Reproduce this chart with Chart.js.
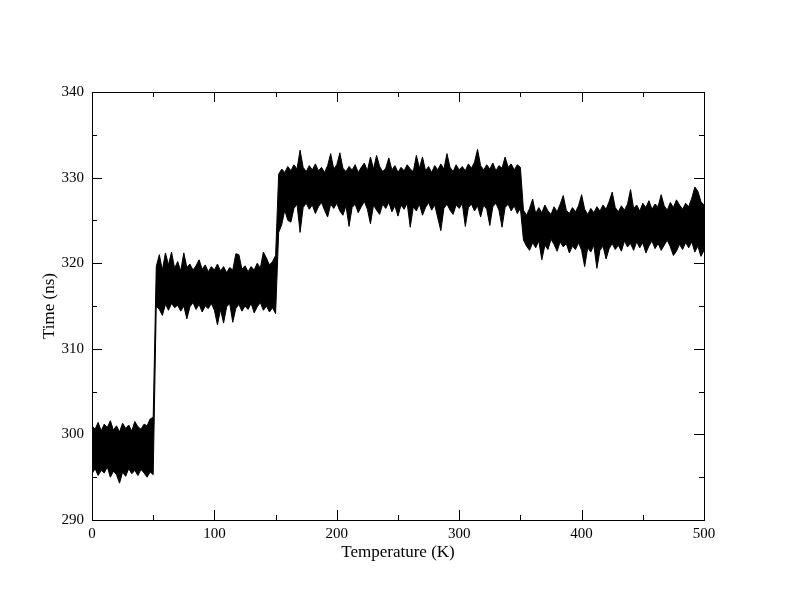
<!DOCTYPE html>
<html>
<head>
<meta charset="utf-8">
<script src="https://cdn.jsdelivr.net/npm/chart.js@4/dist/chart.umd.min.js"></script>
<style>
  html, body { margin: 0; padding: 0; background: #fff; }
  #wrap { width: 792px; height: 612px; }
</style>
</head>
<body>
<div id="wrap"><canvas id="chart" width="792" height="612"></canvas></div>
<script>
// Temperature samples every 2.5 K (0 .. 500)
const tempStep = 2.5;
const temps = Array.from({ length: 201 }, (_, i) => i * tempStep);

// Upper edge of the noisy band (ns)
const timeHigh = [
  301.0, 300.6, 301.4, 300.4, 301.2, 300.8, 301.6, 300.5, 301.0, 300.3,
  301.3, 300.7, 301.1, 300.4, 301.5, 300.9, 300.6, 301.2, 301.0, 301.8,
  302.0,
  319.6, 321.0, 319.2, 321.2, 319.8, 321.3, 319.4, 320.2, 319.1, 321.2,
  319.5, 319.9, 319.2, 319.7, 320.4, 319.3, 319.8, 319.0, 319.6, 319.2,
  319.9, 319.1, 319.6, 318.9, 319.5, 319.2, 321.1, 321.0, 319.3, 319.7,
  319.0, 319.6, 319.2, 320.0, 319.4, 321.3, 320.6, 319.8, 320.2, 320.9,
  330.4, 331.0, 330.6, 331.3, 330.8, 331.5, 331.0, 333.2, 331.2, 330.7,
  331.4, 330.9, 331.6, 330.8, 331.2, 330.6, 331.4, 332.8, 331.0, 331.5,
  332.9, 331.1, 330.7, 331.3, 330.9, 331.5, 330.6, 331.2, 331.7, 330.8,
  332.4, 331.0, 332.6, 331.3, 330.7, 331.1, 332.3, 330.9, 331.4, 330.6,
  331.2, 330.8, 331.5, 331.0, 330.7, 332.6, 331.1, 332.4, 330.8, 331.3,
  330.6, 331.4, 330.9, 331.6, 331.0, 332.8, 331.2, 330.7, 331.5, 330.9,
  331.3, 330.8, 331.6, 331.1, 331.8, 333.3, 331.4, 330.9, 331.5, 331.0,
  331.7, 330.8, 331.4, 331.1, 332.4, 331.2, 331.6, 330.9, 331.5, 331.2,
  326.2, 325.6, 326.4, 327.5, 325.8, 326.5, 325.9, 326.8, 326.1, 325.7,
  326.6, 326.0, 326.9, 327.9, 326.2, 325.8, 326.5, 326.0, 326.7, 328.0,
  326.3, 325.7, 326.4, 325.9, 326.6, 326.1, 326.8, 326.3, 327.2, 328.3,
  326.5, 326.0, 326.7, 326.2, 326.9, 328.6, 326.4, 326.8, 326.1, 327.0,
  326.5, 327.3, 326.3, 326.9, 326.6, 328.0, 326.7, 326.2, 327.1, 326.5,
  327.4, 326.8, 326.3, 327.0, 326.6, 327.6, 328.9, 328.4, 327.2, 326.8
];

// Lower edge of the noisy band (ns)
const timeLow = [
  295.4, 296.0, 295.2, 295.8, 295.5, 296.2, 295.0, 295.7, 295.3, 294.3,
  295.6, 295.1, 296.0, 295.4, 295.8, 295.2, 295.9, 295.5, 295.0, 295.6,
  295.3,
  315.0, 314.6, 313.9, 315.2, 314.5, 315.3, 314.8, 315.1, 314.4, 315.0,
  313.5, 314.9, 315.4, 314.6, 315.2, 314.3, 315.0, 314.7, 315.3, 314.5,
  312.8, 314.6, 313.0, 314.9, 315.3, 313.1, 314.7, 315.2, 314.4, 315.0,
  314.6, 315.3, 314.2, 314.9, 315.4, 314.5, 315.0, 314.3, 314.8, 314.1,
  323.6, 324.5, 326.2, 325.0, 324.8, 326.4, 326.9, 323.6, 326.5, 327.0,
  326.3, 326.8, 325.8, 326.6, 327.1, 326.2, 325.4, 326.9, 326.4, 327.0,
  326.1, 325.6, 326.7, 324.3, 326.5, 326.9, 325.9, 326.6, 327.2, 326.3,
  324.6, 326.8, 326.2, 325.7, 326.9, 326.4, 327.1, 326.0, 326.7, 325.5,
  326.8, 326.3, 327.0, 324.2, 326.6, 326.1, 326.9, 325.6, 326.5, 327.1,
  326.2, 326.8, 325.3, 323.8, 326.4, 326.9, 326.2, 325.7, 326.8, 326.4,
  327.0, 324.3, 326.5, 326.9, 326.1, 326.7, 325.4, 326.8, 326.3, 324.4,
  326.6, 327.0, 326.2, 324.2, 326.5, 326.9, 326.1, 326.7, 325.8, 326.4,
  322.7, 322.0, 321.5, 322.4, 321.8, 322.6, 320.4, 322.1, 321.6, 322.8,
  322.2, 321.4, 322.5, 321.9, 322.3, 321.2, 322.0, 321.6, 322.4, 321.5,
  319.6, 321.8, 321.3, 322.1, 319.4, 321.5, 322.0, 320.5, 321.7, 322.3,
  321.6, 322.1, 321.4, 322.6, 321.9, 322.3, 321.5, 322.5, 321.8, 322.4,
  321.2, 322.0, 322.6, 321.7, 322.3, 321.5, 322.1, 322.7, 321.9, 320.9,
  321.4, 322.2, 321.6, 322.4, 321.8, 322.5, 321.3, 322.0, 320.8, 321.5
];

// Axis ticks
const xMajor = [0, 100, 200, 300, 400, 500];
const xMinor = [50, 150, 250, 350, 450];
const yMajor = [290, 300, 310, 320, 330, 340];
const yMinor = [295, 305, 315, 325, 335];

const serif = '"Liberation Serif", "DejaVu Serif", serif';

function toPoints(vals) {
    return vals.map((v, i) => ({ x: temps[i], y: v }));
}

// Box frame with inward ticks on all four sides
const frameTicks = {
    id: 'frameTicks',
    afterDatasetsDraw(chart) {
        const { ctx, chartArea: a, scales: { x, y } } = chart;
        ctx.save();
        ctx.strokeStyle = '#000';
        ctx.lineWidth = 1;
        ctx.beginPath();
        const xTick = (v, len) => {
            const px = Math.round(x.getPixelForValue(v)) + 0.5;
            ctx.moveTo(px, a.bottom); ctx.lineTo(px, a.bottom - len);
            ctx.moveTo(px, a.top); ctx.lineTo(px, a.top + len);
        };
        const yTick = (v, len) => {
            const py = Math.round(y.getPixelForValue(v)) + 0.5;
            ctx.moveTo(a.left, py); ctx.lineTo(a.left + len, py);
            ctx.moveTo(a.right, py); ctx.lineTo(a.right - len, py);
        };
        xMajor.forEach(v => xTick(v, 10));
        xMinor.forEach(v => xTick(v, 5));
        yMajor.forEach(v => yTick(v, 10));
        yMinor.forEach(v => yTick(v, 5));
        ctx.stroke();
        ctx.strokeRect(Math.round(a.left) + 0.5, Math.round(a.top) + 0.5,
            Math.round(a.right - a.left), Math.round(a.bottom - a.top));
        ctx.restore();
    }
};

new Chart(document.getElementById('chart'), {
    type: 'line',
    data: {
        datasets: [{
            label: 'high',
            data: toPoints(timeHigh),
            borderColor: '#000',
            backgroundColor: '#000',
            borderWidth: 1,
            pointRadius: 0,
            tension: 0,
            fill: '+1'
        }, {
            label: 'low',
            data: toPoints(timeLow),
            borderColor: '#000',
            borderWidth: 1,
            pointRadius: 0,
            tension: 0,
            fill: false
        }]
    },
    options: {
        responsive: false,
        animation: false,
        layout: { padding: { top: 92, right: 88, left: 0, bottom: 0 } },
        plugins: {
            legend: { display: false },
            tooltip: { enabled: false }
        },
        scales: {
            x: {
                type: 'linear',
                min: 0,
                max: 500,
                afterFit: s => { s.height = 92; },
                grid: { display: false, drawTicks: false },
                border: { display: false },
                ticks: {
                    stepSize: 100,
                    padding: 5,
                    color: '#000',
                    font: { family: serif, size: 15 }
                },
                title: {
                    display: true,
                    text: 'Temperature (K)',
                    color: '#000',
                    font: { family: serif, size: 17 },
                    padding: { bottom: 49 }
                }
            },
            y: {
                min: 290,
                max: 340,
                afterFit: s => { s.width = 92; },
                grid: { display: false, drawTicks: false },
                border: { display: false },
                ticks: {
                    stepSize: 10,
                    padding: 8,
                    color: '#000',
                    font: { family: serif, size: 15 }
                },
                title: {
                    display: true,
                    text: 'Time (ns)',
                    color: '#000',
                    font: { family: serif, size: 17 },
                    padding: { top: 39 }
                }
            }
        }
    },
    plugins: [frameTicks]
});
</script>
</body>
</html>
